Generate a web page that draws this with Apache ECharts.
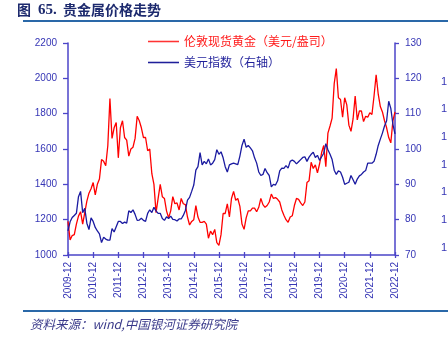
<!DOCTYPE html>
<html><head><meta charset="utf-8">
<script src="https://cdn.jsdelivr.net/npm/echarts@6/dist/echarts.min.js"></script>
<style>html,body{margin:0;padding:0;background:#fff}#c{width:448px;height:337px}</style>
</head><body><div id="c"></div>
<script>
// ---- data ----
const months = [];
for (let y = 2009; y <= 2022; y++) for (let m = 1; m <= 12; m++) {
  if (y === 2009 && m < 12) continue;
  months.push(y + '-' + (m < 10 ? '0' + m : m));
}
const goldName = '伦敦现货黄金（美元/盎司）';
const dxyName = '美元指数（右轴）';
const gold = [
  1190,
  1085,1110,1115,1175,1220,1245,1175,1240,1305,1350,1375,1410,
  1340,1400,1430,1540,1530,1505,1620,1885,1660,1720,1750,1550,
  1720,1760,1665,1650,1560,1600,1610,1660,1785,1760,1720,1665,
  1665,1590,1600,1460,1400,1240,1320,1400,1330,1320,1250,1210,
  1250,1330,1290,1295,1255,1320,1290,1285,1215,1170,1190,1200,
  1280,1215,1185,1185,1190,1175,1095,1135,1115,1145,1070,1055,
  1115,1235,1235,1290,1215,1320,1360,1310,1320,1275,1175,1145,
  1210,1250,1250,1265,1265,1245,1270,1320,1285,1270,1280,1300,
  1345,1320,1325,1315,1300,1255,1225,1200,1185,1215,1222,1280,
  1320,1315,1295,1280,1300,1410,1420,1525,1490,1510,1465,1515,
  1580,1620,1500,1690,1730,1775,1970,2055,1890,1880,1780,1890,
  1850,1735,1700,1770,1900,1765,1815,1815,1755,1785,1780,1805,
  1795,1900,2020,1910,1840,1810,1760,1720,1665,1635,1760,1810
];
const dxy = [
  76.8,
  79.4,80.6,81.2,81.8,86.5,88.0,82.0,83.2,79.0,77.2,80.5,79.5,
  77.8,76.8,76.0,73.5,75.0,74.5,74.2,74.2,77.5,76.5,78.0,79.5,
  79.5,78.9,79.3,79.0,82.5,82.0,82.8,81.5,79.8,79.9,80.4,79.8,
  79.5,81.8,82.8,82.0,83.5,82.5,81.8,81.8,80.3,79.8,80.8,80.3,
  81.0,80.1,80.0,79.6,80.2,80.2,81.2,82.6,85.5,86.3,88.0,89.8,
  94.0,95.0,99.0,95.5,96.5,95.8,97.2,95.5,96.0,97.0,99.8,98.5,
  99.2,97.5,95.0,93.5,95.5,95.8,96.0,95.8,95.6,98.0,101.0,102.8,
  100.5,101.0,100.3,99.5,97.5,96.0,93.5,92.5,92.8,94.5,93.3,92.5,
  89.3,90.0,89.8,91.0,93.8,94.6,94.5,95.3,94.6,96.5,96.9,96.5,
  95.8,96.4,97.0,97.6,97.8,96.5,97.7,98.5,99.1,97.6,98.2,96.8,
  97.8,98.8,101.5,99.8,98.5,97.0,94.0,92.8,93.8,93.5,92.0,90.0,
  90.3,90.6,92.5,91.3,90.0,91.5,92.4,92.8,93.5,93.9,96.0,96.0,
  96.0,96.5,98.5,101.0,102.8,104.5,106.5,108.0,113.5,111.5,107.0,104.3
];
const leftTicks = {min: 1000, max: 2200, interval: 200};
const rightTicks = {min: 70, max: 130, interval: 10};
const titleText = ['图', '65.', '贵金属价格走势'];
const sourceText = '资料来源：wind,中国银河证券研究院';
const clippedLabels = ['1','1','1','1','1','1','1'];

// ---- chart ----
const axisCol = '#4b45c8';
const labCol = '#3535b5';
const isDec = (i, v) => String(v).endsWith('-12');
const chart = echarts.init(document.getElementById('c'), null, {renderer: 'canvas'});
const graphics = [
  {type:'text', left:17, top:3, style:{text:titleText[0], font:'bold 14px "Noto Sans CJK SC"', fill:'#1d2a6e'}},
  {type:'text', left:38, top:3, style:{text:titleText[1], font:'bold 15px "Liberation Serif"', fill:'#1d2a6e'}},
  {type:'text', left:63, top:3, style:{text:titleText[2], font:'bold 14px "Noto Sans CJK SC"', fill:'#1d2a6e'}},
  {type:'rect', shape:{x:23, y:20, width:425, height:2}, style:{fill:'#2a68a8'}},
  {type:'rect', shape:{x:23, y:310, width:425, height:2}, style:{fill:'#2a68a8'}},
  {type:'text', left:30, top:318, style:{text:sourceText, font:'italic 12.5px "Noto Sans CJK SC"', fill:'#3a3a8a'}}
];
clippedLabels.forEach((t, i) => {
  graphics.push({type:'text', left:441, top:76 + i * 27.7, style:{text:t, font:'11px "Liberation Sans"', fill:'#3535b5'}});
});
const lineIcon = 'path://M0,0L40,0L40,2L0,2Z';
chart.setOption({
  animation: false,
  backgroundColor: '#fff',
  graphic: graphics,
  legend: {
    orient: 'vertical', left: 143, top: 29, itemWidth: 31, itemHeight: 1.6, itemGap: 6,
    textStyle: {fontFamily: '"Noto Sans CJK SC"', fontSize: 12, lineHeight: 15},
    data: [
      {name: goldName, icon: lineIcon, itemStyle: {color: '#ff3333'}, textStyle: {color: '#ff1a1a'}},
      {name: dxyName, icon: lineIcon, itemStyle: {color: '#1f1f9a'}, textStyle: {color: '#1f1f9a'}}
    ]
  },
  grid: {left: 68, right: 53, top: 43, bottom: 82},
  xAxis: [{
    type: 'category', data: months, boundaryGap: false,
    axisLine: {lineStyle: {color: axisCol, width: 1.5}},
    axisTick: {interval: isDec, inside: true, length: 3, lineStyle: {color: axisCol, width: 1.3}},
    axisLabel: {interval: isDec, rotate: 90, margin: 7, color: labCol, fontSize: 10, fontFamily: '"Liberation Sans"'},
    splitLine: {show: false}
  }, {
    type: 'category', data: months, boundaryGap: false, position: 'bottom', offset: 0,
    axisLine: {show: false},
    axisTick: {interval: isDec, inside: false, length: 3, lineStyle: {color: axisCol, width: 1.3}},
    axisLabel: {show: false}, splitLine: {show: false}
  }],
  yAxis: [{
    type: 'value', position: 'left', min: leftTicks.min, max: leftTicks.max, interval: leftTicks.interval,
    axisLine: {show: true, lineStyle: {color: axisCol, width: 1.5}},
    axisTick: {show: true, length: 5, lineStyle: {color: axisCol, width: 1.3}},
    axisLabel: {margin: 11, color: labCol, fontSize: 10, fontFamily: '"Liberation Sans"', formatter: v => String(v)},
    splitLine: {show: false}
  }, {
    type: 'value', position: 'right', min: rightTicks.min, max: rightTicks.max, interval: rightTicks.interval,
    axisLine: {show: true, lineStyle: {color: axisCol, width: 1.5}},
    axisTick: {show: true, length: 4, lineStyle: {color: axisCol, width: 1.3}},
    axisLabel: {margin: 10, color: labCol, fontSize: 10, fontFamily: '"Liberation Sans"', formatter: v => String(v)},
    splitLine: {show: false}
  }],
  series: [
    {name: goldName, type: 'line', data: gold, yAxisIndex: 0, symbol: 'none', showSymbol: false,
     lineStyle: {color: '#ff0000', width: 1.3}, itemStyle: {color: '#ff0000'}},
    {name: dxyName, type: 'line', data: dxy, yAxisIndex: 1, symbol: 'none', showSymbol: false,
     lineStyle: {color: '#1a1aa0', width: 1.3}, itemStyle: {color: '#1a1aa0'}}
  ]
});
</script></body></html>
